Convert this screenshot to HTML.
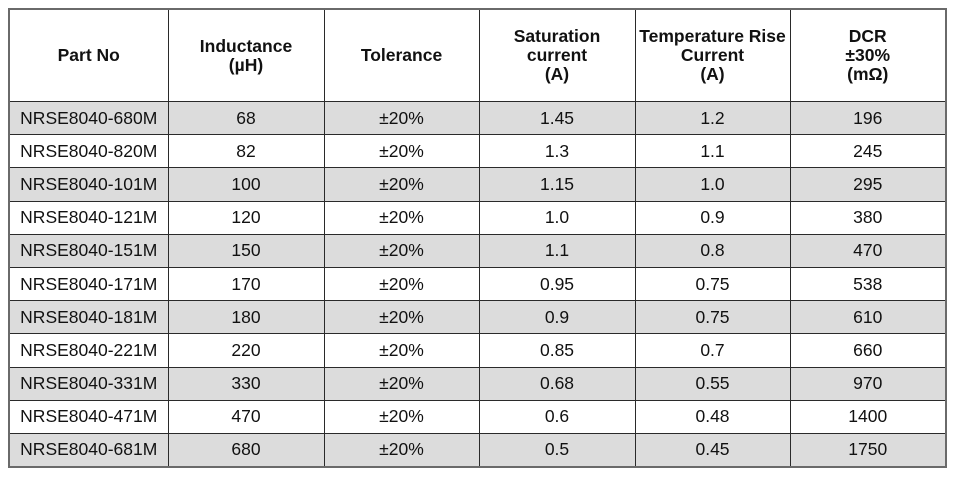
<!DOCTYPE html>
<html><head><meta charset="utf-8"><style>
body{margin:0;background:#fff;width:958px;height:480px;overflow:hidden;font-family:"Liberation Sans",sans-serif;color:#111}
#t{position:absolute;left:8px;top:8px;border-collapse:collapse;table-layout:fixed;width:937px}
td,th{border:1px solid #2a2a2a;text-align:center;padding:0;font-size:17.5px;white-space:nowrap;overflow:hidden}
th{height:91px;font-weight:bold;font-size:17.5px;line-height:19px;background:#fff}
td{height:32.2px}
tr.g td{background:#dcdcdc}
#t{border:2px solid #6a6a6a}
</style></head><body>
<table id="t">
<colgroup><col style="width:159px"><col style="width:156px"><col style="width:155px"><col style="width:156px"><col style="width:155px"><col style="width:156px"></colgroup>
<thead><tr>
<th>Part No</th>
<th>Inductance<br>(µH)</th>
<th>Tolerance</th>
<th>Saturation<br>current<br>(A)</th>
<th>Temperature Rise<br>Current<br>(A)</th>
<th>DCR<br>±30%<br>(mΩ)</th>
</tr></thead>
<tbody id="b"></tbody></table>
<script>
const parts=["680M","820M","101M","121M","151M","171M","181M","221M","331M","471M","681M"];
const inductance=["68","82","100","120","150","170","180","220","330","470","680"];
const saturation=["1.45","1.3","1.15","1.0","1.1","0.95","0.9","0.85","0.68","0.6","0.5"];
const tempRise=["1.2","1.1","1.0","0.9","0.8","0.75","0.75","0.7","0.55","0.48","0.45"];
const dcr=["196","245","295","380","470","538","610","660","970","1400","1750"];
const b=document.getElementById('b');
parts.forEach((p,i)=>{
 const tr=document.createElement('tr');
 
 
 if(i%2===0)tr.className='g';
 [["NRSE8040-"+p,"part-no"],[inductance[i],"inductance"],["±20%","tolerance"],[saturation[i],"saturation"],[tempRise[i],"temp-rise"],[dcr[i],"dcr"]].forEach(([v,n])=>{
  const td=document.createElement('td');
  
  
  td.textContent=v;tr.appendChild(td);
 });
 b.appendChild(tr);
});
</script>
</body></html>
